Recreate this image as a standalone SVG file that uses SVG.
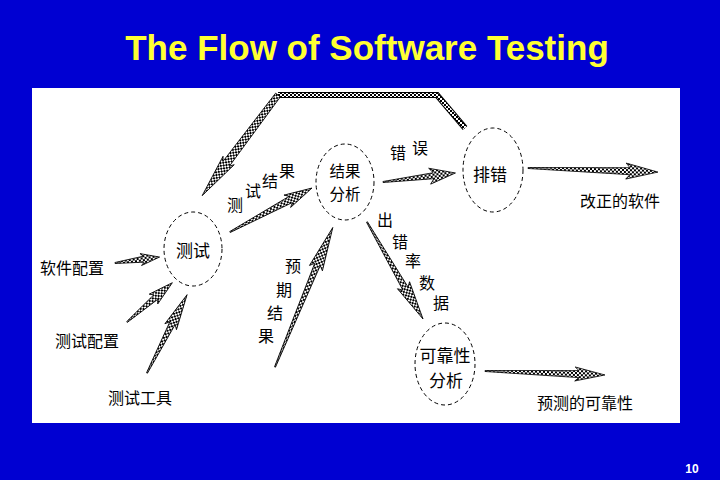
<svg xmlns="http://www.w3.org/2000/svg" width="720" height="480" viewBox="0 0 720 480">
<defs>
<pattern id="chk" width="4" height="4" patternUnits="userSpaceOnUse">
<rect width="4" height="4" fill="#fff"/>
<rect width="2" height="2" fill="#000"/>
<rect x="2" y="2" width="2" height="2" fill="#000"/>
</pattern>
</defs>
<style>
.node ellipse{fill:none;stroke:#000;stroke-width:1;stroke-dasharray:4 3}
.cn{font-family:"Noto Sans CJK SC","Noto Sans CJK JP",sans-serif;fill:#000;text-anchor:middle}
.lbl{font-size:16px}
.nl{font-size:17px}
.nl2{font-size:15.5px}
.arr{fill:url(#chk);stroke:#000;stroke-width:0.8;stroke-linejoin:miter}
</style>
<rect width="720" height="480" fill="#0000d2"/>
<rect x="32" y="88" width="648" height="335" fill="#fff"/>
<text x="367" y="60" font-family="Liberation Sans, Arial, sans-serif" font-weight="bold" font-size="35" fill="#ffff33" text-anchor="middle">The Flow of Software Testing</text>
<text x="692" y="473" font-family="Liberation Sans, Arial, sans-serif" font-weight="bold" font-size="12" fill="#fff" text-anchor="middle">10</text>

<g id="connectors">
<polyline points="465,128 437,95 278,95" fill="none" stroke="#000" stroke-width="6" stroke-linejoin="miter"/>
<polyline points="465,128 437,95 278,95" fill="none" stroke="url(#chk)" stroke-width="4"/>
<path class="arr" transform="translate(278,95) rotate(127)" d="M0,-3 L86,-4 L82,-7 L126,0 L82,7 L86,4 L0,3 Z"/>
<path class="arr" transform="translate(230,232) rotate(-28.2)" d="M0,-0.5 L69,-3.5 L65,-7 L93,0 L65,7 L69,3.5 L0,0.5 Z"/>
<path class="arr" transform="translate(383,182) rotate(-7.1)" d="M0,-0.5 L51,-3 L47,-8 L73,0 L47,8 L51,3 L0,0.5 Z"/>
<path class="arr" transform="translate(528,168) rotate(1.8)" d="M0,-0.5 L102,-3.5 L98,-8 L130,0 L98,8 L102,3.5 L0,0.5 Z"/>
<path class="arr" transform="translate(367,222) rotate(60)" d="M0,-0.5 L77,-3 L73,-7 L112,0 L73,7 L77,3 L0,0.5 Z"/>
<path class="arr" transform="translate(485,371) rotate(1.9)" d="M0,-0.5 L94,-3.5 L90,-7 L120,0 L90,7 L94,3.5 L0,0.5 Z"/>
<path class="arr" transform="translate(275,367) rotate(-67.5)" d="M0,-0.5 L111,-3 L107,-7 L151,0 L107,7 L111,3 L0,0.5 Z"/>
<path class="arr" transform="translate(115,263) rotate(-7.6)" d="M0,-0.5 L29,-3 L26,-6 L45,0 L26,6 L29,3 L0,0.5 Z"/>
<path class="arr" transform="translate(127,322) rotate(-40.9)" d="M0,-0.5 L38,-3 L35,-6.5 L60,0 L35,6.5 L38,3 L0,0.5 Z"/>
<path class="arr" transform="translate(147,373) rotate(-62.9)" d="M0,-0.5 L56,-3 L52,-6.5 L88,0 L52,6.5 L56,3 L0,0.5 Z"/>
</g>

<g id="node-test" class="node">
<ellipse cx="193" cy="249" rx="29" ry="37"/>
<text class="cn nl" x="193" y="257">测试</text>
</g>
<g id="node-analysis" class="node">
<ellipse cx="345" cy="182" rx="29" ry="38"/>
<text class="cn nl2" x="345" y="177">结果</text>
<text class="cn nl2" x="345" y="200">分析</text>
</g>
<g id="node-debug" class="node">
<ellipse cx="493" cy="170" rx="30" ry="42"/>
<text class="cn nl" x="490" y="181">排错</text>
</g>
<g id="node-reliability" class="node">
<ellipse cx="445" cy="364" rx="30" ry="41"/>
<text class="cn nl" x="445" y="362">可靠性</text>
<text class="cn nl" x="446" y="387">分析</text>
</g>

<g id="labels" class="cn lbl">
<text x="72" y="274">软件配置</text>
<text x="87" y="347">测试配置</text>
<text x="140" y="404">测试工具</text>
<text x="620" y="207">改正的软件</text>
<text x="585" y="409">预测的可靠性</text>
<text x="398" y="159">错</text>
<text x="420" y="154">误</text>
<text x="235" y="211">测</text>
<text x="253" y="197">试</text>
<text x="270" y="187">结</text>
<text x="287" y="177">果</text>
<text x="385" y="226">出</text>
<text x="400" y="248">错</text>
<text x="413" y="267">率</text>
<text x="427" y="289">数</text>
<text x="441" y="309">据</text>
<text x="293" y="272">预</text>
<text x="284" y="296">期</text>
<text x="275" y="319">结</text>
<text x="266" y="342">果</text>
</g>
</svg>
